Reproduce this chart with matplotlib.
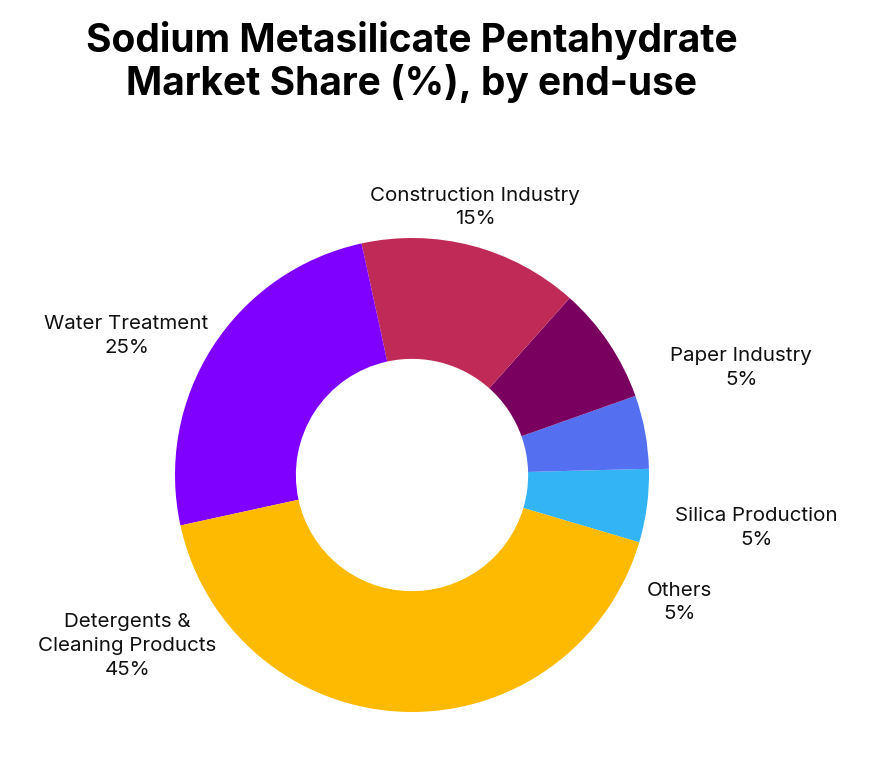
import matplotlib
matplotlib.use("Agg")
import matplotlib.pyplot as plt
import numpy as np

categories = ["Others", "Silica Production", "Paper Industry", "Construction Industry",
              "Water Treatment", "Detergents &\nCleaning Products"]
slice_values = [5, 5, 8, 15, 25, 42]
label_pcts = ["5%", "5%", "5%", "15%", "25%", "45%"]
colors = ["#33B5F5", "#5470F0", "#7A0060", "#C02A57", "#8000FF", "#FDBA00"]
# label placement (angle deg, radius)
label_angles = [-25.5, -8.7, 18, 76.7, 154, 211]
label_dists = [1.25, 1.47, 1.46, 1.16, 1.34, 1.40]

plt.rcParams['font.family'] = ['Inter', 'DejaVu Sans']
fig = plt.figure(figsize=(8.78, 7.75), dpi=100)
cx, cy, r = 412, 475, 237
ax = fig.add_axes([(cx - r) / 878, (775 - cy - r) / 775, 2 * r / 878, 2 * r / 775])
ax.pie(slice_values, colors=colors, startangle=-16.5, counterclock=True,
       wedgeprops=dict(width=0.51, linewidth=0))
ax.set_xlim(-1, 1); ax.set_ylim(-1, 1)
ax.set_aspect('equal'); ax.axis('off')

for cat, pct, a, d in zip(categories, label_pcts, label_angles, label_dists):
    t = np.deg2rad(a)
    ax.text(d * np.cos(t), d * np.sin(t), f"{cat}\n{pct}", ha='center', va='center',
            fontsize=14.8, color='#111111', linespacing=1.42, clip_on=False)

fig.text(412 / 878, 1 - 62 / 775, "Sodium Metasilicate Pentahydrate\nMarket Share (%), by end-use",
         ha='center', va='center', fontsize=28, fontweight='bold', linespacing=1.15)
fig.savefig("out.png", dpi=100, facecolor='white')
